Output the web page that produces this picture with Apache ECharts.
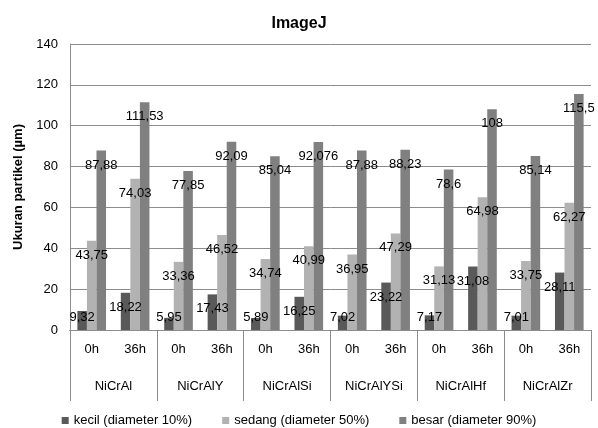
<!DOCTYPE html>
<html>
<head>
<meta charset="utf-8">
<script src="https://cdn.jsdelivr.net/npm/echarts@6/dist/echarts.min.js"></script>
<style>html,body{margin:0;padding:0;background:#fff}#c{width:598px;height:428px}</style>
</head>
<body>
<div id="c"></div>
<script>
const times = ['0h','36h','0h','36h','0h','36h','0h','36h','0h','36h','0h','36h'];
const alloys = ['NiCrAl','NiCrAlY','NiCrAlSi','NiCrAlYSi','NiCrAlHf','NiCrAlZr'];
const seriesNames = ['kecil (diameter 10%)','sedang (diameter 50%)','besar (diameter 90%)'];
const kecil = [9.32, 18.22, 5.95, 17.43, 5.89, 16.25, 7.02, 23.22, 7.17, 31.08, 7.01, 28.11];
const sedang = [43.75, 74.03, 33.36, 46.52, 34.74, 40.99, 36.95, 47.29, 31.13, 64.98, 33.75, 62.27];
const besar = [87.88, 111.53, 77.85, 92.09, 85.04, 92.076, 87.88, 88.23, 78.6, 108, 85.14, 115.5];
const yTicks = [0, 20, 40, 60, 80, 100, 120, 140];
const colors = ['#595959', '#b2b2b2', '#808080'];

const font = 'Liberation Sans, Arial, sans-serif';
function fmt(v){ return String(v).replace('.', ','); }
function mkData(arr){
  return arr.map(v => ({
    value: v,
    label: v < 13.7 ? {position: 'insideBottom', distance: 6} : {position: 'insideTop', distance: 8}
  }));
}
const chart = echarts.init(document.getElementById('c'));
chart.setOption({
  animation: false,
  title: {text: 'ImageJ', left: 'center', top: 11, textStyle: {fontFamily: font, fontSize: 16, fontWeight: 'bold', color: '#000'}},
  grid: {left: 70, right: 7, top: 44, bottom: 98, containLabel: false},
  legend: {
    data: seriesNames, bottom: 1, left: 'center', padding: 0, itemWidth: 7, itemHeight: 7, itemGap: 30,
    icon: 'rect', textStyle: {fontFamily: font, fontSize: 13, color: '#000'}
  },
  xAxis: [{
    type: 'category', data: times, position: 'bottom',
    axisLine: {lineStyle: {color: '#8c8c8c'}},
    axisTick: {length: 31, lineStyle: {color: '#8c8c8c'}},
    axisLabel: {fontFamily: font, fontSize: 13, color: '#000', margin: 13}
  }, {
    type: 'category', data: alloys, position: 'bottom', offset: 0,
    axisLine: {show: true, lineStyle: {color: '#8c8c8c'}},
    axisTick: {show: true, length: 71, interval: 0, lineStyle: {color: '#8c8c8c'}},
    axisLabel: {fontFamily: font, fontSize: 13, color: '#000', margin: 50}
  }],
  yAxis: {
    type: 'value', min: yTicks[0], max: yTicks[yTicks.length-1], interval: 20,
    name: 'Ukuran partikel (µm)', nameLocation: 'middle', nameGap: 44, nameRotate: 90,
    nameTextStyle: {fontFamily: font, fontSize: 13, fontWeight: 'bold', color: '#000'},
    axisLine: {show: true, lineStyle: {color: '#8c8c8c'}},
    axisTick: {show: false},
    axisLabel: {fontFamily: font, fontSize: 13, color: '#000', margin: 12},
    splitLine: {lineStyle: {color: '#8c8c8c'}}
  },
  series: [kecil, sedang, besar].map((arr, i) => ({
    name: seriesNames[i], type: 'bar', xAxisIndex: 0,
    data: mkData(arr),
    barGap: '0%', barCategoryGap: '34%',
    itemStyle: {color: colors[i]},
    label: {show: true, formatter: p => fmt(p.value), fontFamily: font, fontSize: 13, color: '#000'}
  }))
});
</script>
</body>
</html>
